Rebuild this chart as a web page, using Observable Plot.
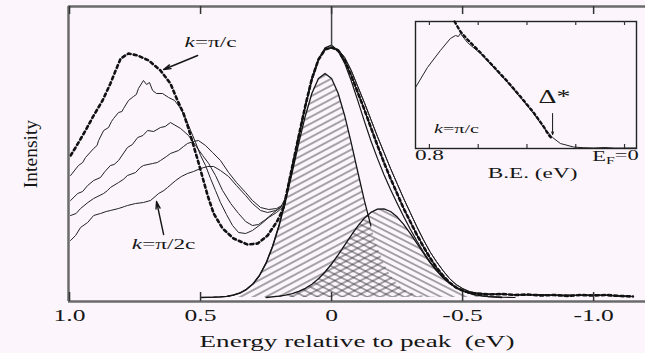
<!DOCTYPE html>
<html>
<head>
<meta charset="utf-8">
<script src="https://cdn.jsdelivr.net/npm/d3@7"></script>
<script src="https://cdn.jsdelivr.net/npm/@observablehq/plot@0.6"></script>
<style>
  html, body { margin: 0; padding: 0; background: #fcf6fc; }
  #chart { position: relative; width: 645px; height: 353px; overflow: hidden; }
  #chart svg { position: absolute; }
  #chart text { white-space: pre; }
</style>
</head>
<body>
<div id="chart"></div>
<script>
// Energy relative to the peak in eV (positive = higher binding energy), intensity in arbitrary units.
const xTicks = [1.0, 0.5, 0, -0.5, -1.0];
const xTickLabels = ["1.0", "0.5", "0", "-0.5", "-1.0"];
const insetTicks = [0.8, 0.6, 0.4, 0.2, 0];

// Spectra below the quasiparticle peak, one per momentum cut (k = π/c dashed ... k = π/2c)
const cutPiOverC = [[0.996,142],[0.977,150],[0.939,167],[0.908,182],[0.874,197],[0.844,214],[0.824,227],[0.805,239],[0.775,244],[0.740,242],[0.698,237],[0.653,227],[0.615,214],[0.588,197],[0.565,184],[0.546,169],[0.527,152],[0.508,135],[0.489,117],[0.473,102],[0.450,84],[0.416,69],[0.374,59],[0.321,53],[0.282,54],[0.244,62],[0.206,77],[0.183,90]];
const cutA = [[0.996,122],[0.966,132],[0.950,135],[0.939,140],[0.908,149],[0.895,152],[0.889,157],[0.870,167],[0.851,170],[0.840,176],[0.832,179],[0.813,185],[0.800,186],[0.794,189],[0.775,197],[0.756,201],[0.745,203],[0.737,209],[0.718,217],[0.706,213],[0.695,215],[0.683,207],[0.668,204],[0.645,204],[0.622,200],[0.599,197],[0.576,189],[0.557,179],[0.538,167],[0.519,155],[0.500,142],[0.481,132],[0.462,119],[0.443,107],[0.424,95],[0.401,83],[0.378,72],[0.355,65],[0.328,64],[0.302,67],[0.271,73],[0.240,80],[0.210,85],[0.183,91]];
const cutB = [[0.996,97],[0.969,104],[0.950,106],[0.931,112],[0.908,117],[0.882,120],[0.865,126],[0.844,132],[0.830,133],[0.813,137],[0.779,150],[0.760,153],[0.740,160],[0.720,162],[0.702,167],[0.679,166],[0.653,170],[0.635,171],[0.615,175],[0.576,169],[0.546,162],[0.519,152],[0.492,142],[0.469,134],[0.443,122],[0.416,107],[0.385,94],[0.355,84],[0.328,76],[0.302,72],[0.279,73],[0.252,78],[0.225,84],[0.195,90]];
const cutC = [[0.996,82],[0.975,84],[0.958,89],[0.930,95],[0.908,99],[0.870,104],[0.855,107],[0.844,110],[0.813,115],[0.795,118],[0.779,122],[0.748,125],[0.730,130],[0.718,132],[0.683,134],[0.665,135],[0.653,137],[0.630,141],[0.615,144],[0.584,147],[0.565,151],[0.550,154],[0.527,156],[0.508,157],[0.481,152],[0.454,145],[0.424,137],[0.393,125],[0.363,115],[0.328,105],[0.302,97],[0.271,90],[0.240,88],[0.210,89],[0.183,93]];
const cutPiOver2C = [[0.996,57],[0.977,62],[0.958,70],[0.931,75],[0.908,82],[0.882,84],[0.860,86],[0.844,87],[0.813,89],[0.790,91],[0.779,92],[0.748,94],[0.718,95],[0.691,97],[0.660,104],[0.640,107],[0.626,110],[0.595,117],[0.573,121],[0.550,124],[0.527,126],[0.500,129],[0.473,131],[0.450,131],[0.424,127],[0.393,121],[0.363,112],[0.328,102],[0.302,94],[0.271,87],[0.244,85],[0.214,87],[0.183,92]];

// Quasiparticle peak and high-energy tail shared by the cuts (narrow and slightly wider traces)
const peakNarrow = [[0.175,100],[0.15,131],[0.125,162],[0.1,192],[0.075,219],[0.05,238],[0.025,248],[0,250],[-0.025,247],[-0.05,237],[-0.075,222],[-0.1,205],[-0.125,188],[-0.15,170],[-0.175,152],[-0.2,135],[-0.225,119],[-0.25,104],[-0.275,89],[-0.3,76],[-0.325,63],[-0.35,51],[-0.375,40],[-0.4,30],[-0.425,22],[-0.45,15],[-0.475,10],[-0.5,7],[-0.525,5],[-0.55,4],[-0.6,3],[-0.65,3.5],[-0.7,2.5],[-0.75,3],[-0.8,2],[-0.85,2.5],[-0.9,1.5],[-0.95,2.5],[-1,2],[-1.05,2.5],[-1.1,1.5],[-1.15,1]];
const peakWide = [[0.175,100],[0.15,131],[0.125,162],[0.1,192],[0.075,219],[0.05,238],[0.025,248],[0,250],[-0.025,248],[-0.05,240],[-0.075,227],[-0.1,211],[-0.125,195],[-0.15,178],[-0.175,161],[-0.2,145],[-0.225,129],[-0.25,114],[-0.275,99],[-0.3,85],[-0.325,71],[-0.35,58],[-0.375,46],[-0.4,36],[-0.425,27],[-0.45,19],[-0.475,13],[-0.5,9],[-0.525,6],[-0.55,4.5],[-0.6,3.5],[-0.65,3],[-0.7,3],[-0.75,2.5],[-0.8,3],[-0.85,2],[-0.9,2.5],[-0.95,2],[-1,2.5],[-1.05,2],[-1.1,1.5],[-1.15,1]];

// Two-component fit: main peak, shoulder, and their sum
const fitMain = [[0.5,0],[0.45,0.3],[0.425,0.6],[0.4,1.2],[0.375,2.4],[0.35,4.4],[0.325,7.9],[0.3,13.5],[0.275,22],[0.25,34.1],[0.225,50.8],[0.2,71.7],[0.175,97.1],[0.15,125.5],[0.125,154.6],[0.1,181.8],[0.075,204.2],[0.05,218.9],[0.025,224.1],[0,218.9],[-0.025,204.2],[-0.05,181.8],[-0.075,154.6],[-0.1,125.5],[-0.125,97.1],[-0.15,71.7],[-0.175,50.8],[-0.2,34.1],[-0.225,22],[-0.25,13.5],[-0.275,7.9],[-0.3,4.4],[-0.325,2.4],[-0.35,1.2],[-0.375,0.6],[-0.4,0.3],[-0.45,0]];
const fitShoulder = [[0.25,0],[0.2,1.4],[0.175,2.4],[0.15,3.9],[0.125,6.1],[0.1,9.2],[0.075,13.3],[0.05,18.7],[0.025,25.5],[0,33.5],[-0.025,42.6],[-0.05,52.3],[-0.075,62.2],[-0.1,71.4],[-0.125,79.3],[-0.15,85.1],[-0.175,88.3],[-0.2,88.6],[-0.225,86],[-0.25,80.7],[-0.275,73.1],[-0.3,64.1],[-0.325,54.3],[-0.35,44.5],[-0.375,35.2],[-0.4,27],[-0.425,20],[-0.45,14.3],[-0.475,9.9],[-0.5,6.6],[-0.525,4.3],[-0.55,2.7],[-0.575,1.6],[-0.6,0.9],[-0.65,0]];
const fitSum = [[0.5,0],[0.45,0.3],[0.425,0.6],[0.4,1.2],[0.375,2.4],[0.35,4.6],[0.325,8.3],[0.3,13.6],[0.275,22.2],[0.25,34.6],[0.225,51.6],[0.2,73.1],[0.175,99.5],[0.15,129.4],[0.125,160.7],[0.1,191],[0.075,217.5],[0.05,237.6],[0.025,249.6],[0,252.4],[-0.025,246.8],[-0.05,234.1],[-0.075,216.8],[-0.1,196.9],[-0.125,176.4],[-0.15,156.8],[-0.175,139.1],[-0.2,122.7],[-0.225,108],[-0.25,94.2],[-0.275,81],[-0.3,68.5],[-0.325,56.7],[-0.35,45.7],[-0.375,35.8],[-0.4,27.3],[-0.425,20],[-0.45,14.3],[-0.475,9.9],[-0.5,6.6],[-0.525,4.3],[-0.55,2.7],[-0.575,1.6],[-0.6,0.9],[-0.65,0.3],[-0.7,0]];

// Inset: k = π/c spectrum near the leading edge, binding energy in eV
const insetSpectrum = [[0.857,61],[0.808,81],[0.755,98],[0.714,110],[0.693,113],[0.681,112],[0.673,115],[0.644,106],[0.591,95],[0.537,81],[0.480,66],[0.427,51],[0.373,35],[0.332,21],[0.295,11],[0.263,5],[0.209,1.5],[0.170,0.8],[0.127,0.5],[0.080,1],[0.040,0.4],[-0.049,0.5]];
const insetReference = [[0.697,127],[0.673,117],[0.644,109],[0.591,96],[0.537,82],[0.480,67],[0.427,52],[0.373,36],[0.332,22],[0.312,14],[0.295,9]];

// Annotations (energy, intensity)
const mainLabels = [{text: "k=π/c", E: 0.462, I: 255}, {text: "k=π/2c", E: 0.641, I: 53}];
const mainPointers = [{E1: 0.511, I1: 242, E2: 0.641, I2: 228}, {E1: 0.641, I1: 63, E2: 0.668, I2: 96}];
const axisTitleY = [{text: "Intensity", E: 1.004, I: 143.5}];
const gapLabel = [{text: "Δ*", E: 0.287, I: 51}];
const gapPointer = [{E1: 0.295, I1: 35, E2: 0.295, I2: 14}];
const insetLabel = [{text: "k=π/c", E: 0.689, I: 20}];

const toRows = (pairs, series) => pairs.map(([E, I]) => ({series, E, I}));
const solidRows = [
  ...toRows(cutA.concat(peakNarrow), "a"),
  ...toRows(cutB.concat(peakNarrow), "b"),
  ...toRows(cutC.concat(peakWide), "c"),
  ...toRows(cutPiOver2C.concat(peakWide), "d")
];
const dashedRows = toRows(cutPiOverC.concat(peakNarrow), "π/c");
const mainRows = toRows(fitMain, "main");
const shoulderRows = toRows(fitShoulder, "shoulder");
const sumRows = toRows(fitSum, "sum");

const font = "'Liberation Serif', 'Times New Roman', serif";
const frameGrey = "#6b6b6b";
const ink = "#161616";
const label = {lineAnchor: "middle", textAnchor: "middle", fill: ink};

const chart = Plot.plot({
  width: 645, height: 353,
  marginTop: 6, marginRight: 0, marginBottom: 52, marginLeft: 68,
  x: {domain: [1.004, -1.198], axis: null},
  y: {domain: [-4, 291], axis: null},
  style: {background: "transparent", fontFamily: font, color: ink, overflow: "visible"},
  marks: [
    Plot.areaY(mainRows, {x: "E", y: "I", fill: "url(#hatch-main)"}),
    Plot.areaY(shoulderRows, {x: "E", y: "I", fill: "url(#hatch-shoulder)"}),
    Plot.line(mainRows.filter(d => d.E >= -0.15), {x: "E", y: "I", stroke: ink, strokeWidth: 1.3}),
    Plot.line(shoulderRows, {x: "E", y: "I", stroke: ink, strokeWidth: 1.3}),
    Plot.line(sumRows, {x: "E", y: "I", stroke: ink, strokeWidth: 1.2}),
    Plot.line(solidRows, {x: "E", y: "I", z: "series", stroke: "#222", strokeWidth: 1}),
    Plot.line(dashedRows, {x: "E", y: "I", stroke: "#111", strokeWidth: 2.6, strokeDasharray: "3,3.2"}),
    Plot.ruleX([0], {y1: 250, y2: 291, stroke: "#444", strokeWidth: 1.5}),
    // frame
    Plot.ruleY([-4], {stroke: frameGrey, strokeWidth: 2.5}),
    Plot.ruleY([291], {stroke: frameGrey, strokeWidth: 2.5}),
    Plot.ruleX([1.004], {y1: -4, y2: 291, stroke: frameGrey, strokeWidth: 2.5}),
    Plot.ruleX(xTicks, {y1: -4, y2: 5, stroke: "#333", strokeWidth: 1.5}),
    Plot.ruleX(xTicks, {y1: 291, y2: 283, stroke: "#333", strokeWidth: 1.5}),
    Plot.text(xTicks, {...label, x: d => d, text: (d, i) => xTickLabels[i], frameAnchor: "bottom", dy: 14.5, fontSize: 16.5}),
    Plot.text(["Energy relative to peak  (eV)"], {...label, frameAnchor: "bottom", dy: 40, fontSize: 17.5}),
    Plot.text(axisTitleY, {...label, x: "E", y: "I", text: "text", dx: -38, rotate: -90, fontSize: 19.5}),
    // annotations
    Plot.text(mainLabels, {...label, x: "E", y: "I", text: "text", fontSize: 15}),
    Plot.arrow(mainPointers, {x1: "E1", y1: "I1", x2: "E2", y2: "I2", stroke: ink, strokeWidth: 1.4, headLength: 8, headAngle: 32})
  ]
});

const inset = Plot.plot({
  width: 245, height: 175,
  marginTop: 10, marginRight: 14, marginBottom: 38, marginLeft: 10,
  x: {domain: [0.857, -0.049], axis: null},
  y: {domain: [0, 127], axis: null},
  style: {background: "transparent", fontFamily: font, color: ink, overflow: "visible"},
  marks: [
    Plot.frame({stroke: "#222", strokeWidth: 1.4}),
    Plot.ruleX(insetTicks, {y1: 127, y2: 123, stroke: "#333", strokeWidth: 1.2}),
    Plot.ruleX(insetTicks, {y1: 0, y2: 4, stroke: "#333", strokeWidth: 1.2}),
    Plot.line(insetSpectrum, {x: d => d[0], y: d => d[1], stroke: "#222", strokeWidth: 1}),
    Plot.line(insetReference, {x: d => d[0], y: d => d[1], stroke: "#111", strokeWidth: 2.4, strokeDasharray: "2.5,3"}),
    Plot.arrow(gapPointer, {x1: "E1", y1: "I1", x2: "E2", y2: "I2", stroke: ink, strokeWidth: 1, headLength: 4, headAngle: 40}),
    Plot.text(gapLabel, {...label, x: "E", y: "I", text: "text", fontSize: 18}),
    Plot.text(insetLabel, {...label, x: "E", y: "I", text: "text", fontSize: 13}),
    Plot.text(["0.8"], {...label, x: 0.8, frameAnchor: "bottom", dy: 7, fontSize: 15}),
    Plot.text(["EF=0"], {...label, x: 0, frameAnchor: "bottom", dx: -9, dy: 8, fontSize: 14.5}),
    Plot.text(["B.E. (eV)"], {...label, x: 0.377, frameAnchor: "bottom", dy: 25, fontSize: 15})
  ]
});

const ns = "http://www.w3.org/2000/svg";

// Diagonal hatching used to fill the two fit components
function addHatches(svg) {
  const defs = document.createElementNS(ns, "defs");
  defs.innerHTML =
    '<pattern id="hatch-main" patternUnits="userSpaceOnUse" width="8" height="6" patternTransform="rotate(-28)">' +
    '<line x1="0" y1="3" x2="8" y2="3" stroke="#3a3a3a" stroke-width="0.9"/></pattern>' +
    '<pattern id="hatch-shoulder" patternUnits="userSpaceOnUse" width="8" height="5.6" patternTransform="rotate(27)">' +
    '<line x1="0" y1="2.8" x2="8" y2="2.8" stroke="#3a3a3a" stroke-width="0.9"/></pattern>';
  svg.insertBefore(defs, svg.firstChild);
}

// Italic k, subscript F, and the wide serif lettering of the horizontal labels
function styleText(svg, stretch) {
  svg.querySelectorAll("text").forEach(t => {
    const s = t.textContent;
    if (s.startsWith("k=")) {
      t.textContent = "";
      const k = document.createElementNS(ns, "tspan");
      k.setAttribute("font-style", "italic");
      k.textContent = "k";
      t.append(k, s.slice(1));
    } else if (s === "EF=0") {
      t.textContent = "E";
      const f = document.createElementNS(ns, "tspan");
      f.setAttribute("font-size", "70%");
      f.setAttribute("dy", "0.3em");
      f.textContent = "F";
      const rest = document.createElementNS(ns, "tspan");
      rest.setAttribute("dy", "-0.3em");
      rest.textContent = "=0";
      t.append(f, rest);
    }
    const tr = t.getAttribute("transform") || "";
    if (tr.includes("rotate")) return;
    t.setAttribute("transform", `${tr} scale(${stretch},1)`);
  });
}

addHatches(chart);
const host = document.getElementById("chart");
chart.style.left = "0px"; chart.style.top = "0px";
inset.style.left = "405px"; inset.style.top = "11px";
host.append(chart, inset);
styleText(chart, 1.55);
styleText(inset, 1.55);
</script>
</body>
</html>
